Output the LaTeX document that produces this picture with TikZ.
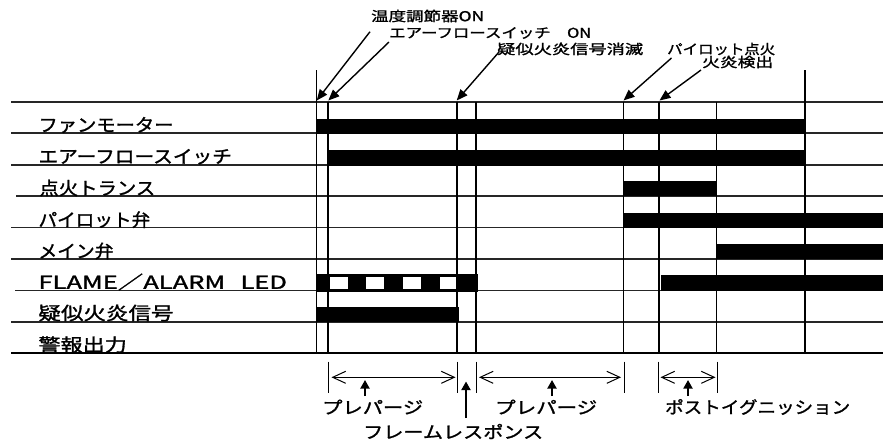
\documentclass[tikz,border=0pt]{standalone}
\usepackage{fontspec}
\usepackage{graphicx}
\setmainfont{Noto Sans CJK JP}[FakeBold=1.3]
\usetikzlibrary{arrows.meta}
\newcommand{\fitw}[2]{\resizebox{#1pt}{\height}{#2}}
\tikzset{
  gridline/.style={line width=1.1pt, draw=black!85},
  vline/.style={line width=1.4pt},
  baseline/.style={line width=2pt},
  barfill/.style={fill=black, draw=none},
  holefill/.style={fill=white, draw=none},
  ptr/.style={-{Triangle[length=11pt,width=9pt]}, line width=1.4pt},
  dimarrow/.style={{Straight Barb[length=13pt,width=12pt]}-{Straight Barb[length=13pt,width=12pt]}, line width=1pt},
  tick/.style={line width=1pt},
  uparrow/.style={-{Triangle[length=8.5pt,width=9pt]}, line width=1.8pt},
  lab/.style={inner sep=0pt, anchor=west, font=\fontsize{18}{18}\selectfont},
  toplab/.style={inner sep=0pt, anchor=west, font=\fontsize{13.5}{13.5}\selectfont},
  botlab/.style={inner sep=0pt, anchor=west, font=\fontsize{17}{17}\selectfont},
}
\begin{document}
\begin{tikzpicture}[x=1pt, y=-1pt]
\useasboundingbox (0,0) rectangle (883,440);
\fill[white] (0,0) rectangle (883,440);

% horizontal grid lines
\draw[gridline] (11,102) -- (883,102);
\draw[gridline] (11,133) -- (883,133);
\draw[gridline] (11,165) -- (883,165);
\draw[gridline] (16,196) -- (883,196);
\draw[gridline] (11,227.5) -- (883,227.5);
\draw[gridline] (11,259) -- (883,259);
\draw[gridline] (15,290.5) -- (883,290.5);
\draw[gridline] (11,322) -- (883,322);
\draw[baseline] (11,353) -- (883,353);

% vertical lines
\draw[vline] (316.7,70) -- (316.7,353);
\draw[vline] (328,102) -- (328,353);
\draw[vline] (457,102) -- (457,353);
\draw[vline] (476,102) -- (476,353);
\draw[vline] (623.3,102) -- (623.3,353);
\draw[vline] (659,102) -- (659,353);
\draw[vline] (716.7,102) -- (716.7,353);
\draw[vline] (805,70) -- (805,353);

% bars
\fill[barfill] (316.7,118.5) rectangle (805,133.5);
\fill[barfill] (329,150) rectangle (805,165.5);
\fill[barfill] (623.3,181) rectangle (716.7,196);
\fill[barfill] (623.3,212.5) rectangle (883,228);
\fill[barfill] (716.7,244) rectangle (883,259.3);
\fill[barfill] (316.7,274) rectangle (477.7,291.5);
\fill[holefill] (330,277.3) rectangle (347.7,289.3);
\fill[holefill] (365.7,277.3) rectangle (384,289.3);
\fill[holefill] (402.7,277.3) rectangle (421,289.3);
\fill[holefill] (440,277.3) rectangle (456.2,289.3);
\fill[barfill] (661,275) rectangle (883,291);
\fill[barfill] (317,306.7) rectangle (459,322.3);

% left labels
\node[lab] (l1) at (38.3,125) {\fitw{135}{ファンモーター}};
\node[lab] (l2) at (38.3,156.7) {\fitw{193.4}{エアーフロースイッチ}};
\node[lab] (l3) at (39.3,188) {\fitw{115.7}{点火トランス}};
\node[lab] (l4) at (38.3,219.7) {\fitw{111.7}{パイロット弁}};
\node[lab] (l5) at (38.3,251) {\fitw{75}{メイン弁}};
\node[lab] (l6) at (38.3,282) {\fitw{248.4}{FLAME／ALARM\hspace{0.6em}LED}};
\node[lab] (l7) at (38.3,313) {\fitw{135}{疑似火炎信号}};
\node[lab] (l8) at (38.3,344.7) {\fitw{88.4}{警報出力}};

% top labels
\node[toplab] (t1) at (371,16) {\fitw{113}{温度調節器ON}};
\node[toplab] (t2) at (389,33) {\fitw{202}{エアーフロースイッチ\hspace{1em}ON}};
\node[toplab] (t3) at (497,49) {\fitw{146}{疑似火炎信号消滅}};
\node[toplab] (t4) at (667,49) {\fitw{108}{パイロット点火}};
\node[toplab] (t5) at (702,62) {\fitw{71}{火炎検出}};

% top pointer arrows
\coordinate (a1s) at (370,31.7);  \coordinate (a1e) at (316.7,100.5);
\coordinate (a2s) at (389,42);    \coordinate (a2e) at (328.3,100.5);
\coordinate (a3s) at (499,52);    \coordinate (a3e) at (456.7,100.5);
\coordinate (a4s) at (671.5,58);  \coordinate (a4e) at (623.5,100.5);
\coordinate (a5s) at (701,70);    \coordinate (a5e) at (659.5,100.5);
\draw[ptr] (a1s) -- (a1e);
\draw[ptr] (a2s) -- (a2e);
\draw[ptr] (a3s) -- (a3e);
\draw[ptr] (a4s) -- (a4e);
\draw[ptr] (a5s) -- (a5e);

% bottom ticks
\foreach \x in {328,457,476.7,624,658.7,717.3}
  \draw[tick] (\x,361.7) -- (\x,393);

% dimension arrows
\coordinate (d1a) at (331.5,377.3); \coordinate (d1b) at (455.5,377.3);
\coordinate (d2a) at (479,377.3);   \coordinate (d2b) at (621,377.3);
\coordinate (d3a) at (660.5,377.3); \coordinate (d3b) at (715.5,377.3);
\draw[dimarrow] (d1a) -- (d1b);
\draw[dimarrow] (d2a) -- (d2b);
\draw[dimarrow] (d3a) -- (d3b);

% up arrows
\coordinate (u1a) at (365,396);  \coordinate (u1b) at (365,380);
\coordinate (u2a) at (552,396);  \coordinate (u2b) at (552,380);
\coordinate (u3a) at (688,396);  \coordinate (u3b) at (688,380);
\coordinate (u4a) at (466,418);  \coordinate (u4b) at (466,381.5);
\draw[uparrow] (u1a) -- (u1b);
\draw[uparrow] (u2a) -- (u2b);
\draw[uparrow] (u3a) -- (u3b);
\draw[uparrow] (u4a) -- (u4b);

% bottom labels
\node[botlab] (b1) at (322,407) {\fitw{101}{プレパージ}};
\node[botlab] (b2) at (495,407) {\fitw{102}{プレパージ}};
\node[botlab] (b3) at (363,431.5) {\fitw{180}{フレームレスポンス}};
\node[botlab] (b4) at (665,407) {\fitw{185}{ポストイグニッション}};
\end{tikzpicture}
\end{document}
